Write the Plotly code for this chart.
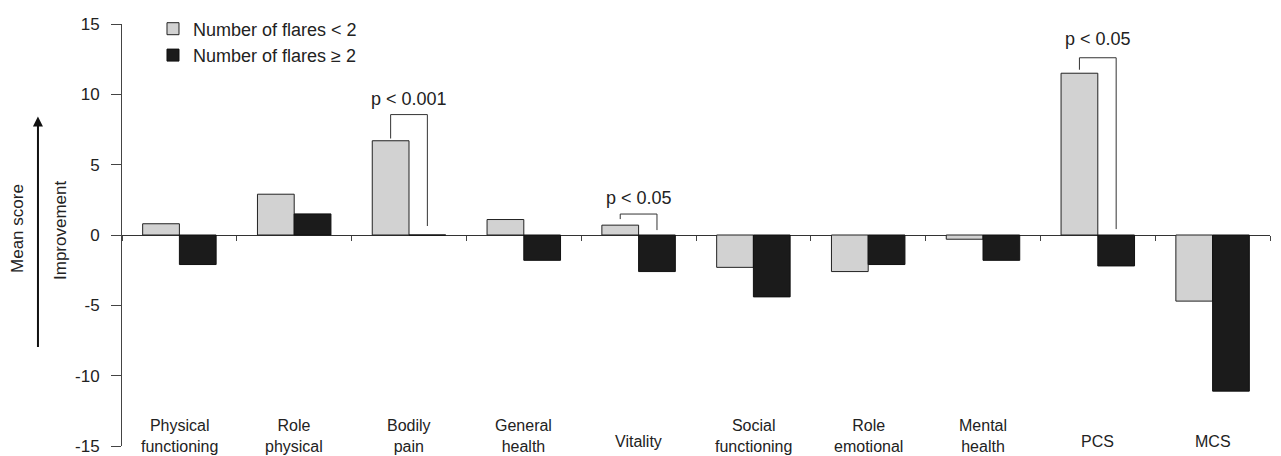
import plotly.graph_objects as go

categories = ["Physical<br>functioning", "Role<br>physical", "Bodily<br>pain", "General<br>health",
              "Vitality", "Social<br>functioning", "Role<br>emotional", "Mental<br>health", "PCS", "MCS"]
flares_lt2 = [0.8, 2.9, 6.7, 1.1, 0.7, -2.3, -2.6, -0.3, 11.5, -4.7]
flares_ge2 = [-2.1, 1.5, 0.0, -1.8, -2.6, -4.4, -2.1, -1.8, -2.2, -11.1]
series_names = ["Number of flares < 2", "Number of flares \u2265 2"]
y_ticks = [-15, -10, -5, 0, 5, 10, 15]
y_ticktext = ["-15", "-10", "-5", "0", "5", "10", "15"]
# significance brackets: category index, label, left leg bottom, top, right leg bottom, label y
sig_idx = [2, 4, 8]
sig_text = ["p < 0.001", "p < 0.05", "p < 0.05"]
sig_left = [6.86, 1.13, 11.75]
sig_top = [8.56, 1.49, 12.6]
sig_right = [0.64, 0.35, 0.42]
sig_label_y = [9.7, 2.6, 13.9]

FONT = "Liberation Sans, Arial, sans-serif"
TXT = "#222"

fig = go.Figure()
fig.add_trace(go.Bar(x=categories, y=flares_lt2, name=series_names[0],
                     marker=dict(color="#d2d2d2", line=dict(color="#222", width=1))))
fig.add_trace(go.Bar(x=categories, y=flares_ge2, name=series_names[1],
                     marker=dict(color="#1b1b1b", line=dict(color="#111", width=1))))

bargap = 0.36
half = (1 - bargap) / 4  # center offset of each bar in a group of two

shapes = []
annotations = []
for i, t, yl, yt, yr, ly in zip(sig_idx, sig_text, sig_left, sig_top, sig_right, sig_label_y):
    xl, xr = i - half, i + half
    for x0, y0, x1, y1 in [(xl, yl, xl, yt), (xl, yt, xr, yt), (xr, yt, xr, yr)]:
        shapes.append(dict(type="line", xref="x", yref="y", x0=x0, y0=y0, x1=x1, y1=y1,
                           line=dict(color="#333", width=1)))
    annotations.append(dict(x=i, y=ly, xref="x", yref="y", text=t, showarrow=False,
                            font=dict(size=18, color=TXT, family=FONT)))

for i, c in enumerate(categories):
    two = "<br>" in c
    annotations.append(dict(x=i, y=-14.3, xref="x", yref="y", text=c, showarrow=False,
                            yanchor="middle", yshift=0 if two else -5,
                            font=dict(size=16, color=TXT, family=FONT)))

annotations.append(dict(x=-0.054, y=0.5, xref="paper", yref="paper", text="Improvement",
                        textangle=-90, showarrow=False, yshift=4, xanchor="center",
                        yanchor="middle", font=dict(size=17, color=TXT, family=FONT)))
annotations.append(dict(x=-0.0915, y=0.5, xref="paper", yref="paper", text="Mean score",
                        textangle=-90, showarrow=False, yshift=7, xanchor="center",
                        yanchor="middle", font=dict(size=17, color=TXT, family=FONT)))
annotations.append(dict(x=-0.0732, y=0.7807, xref="paper", yref="paper", text="",
                        showarrow=True, ax=0, ay=232, arrowhead=2, arrowsize=1,
                        arrowwidth=2, arrowcolor="#111"))

fig.update_layout(
    width=1281, height=456,
    margin=dict(l=122, r=11, t=22, b=10),
    paper_bgcolor="white", plot_bgcolor="white",
    barmode="group", bargap=bargap, bargroupgap=0,
    font=dict(family=FONT, color=TXT, size=17),
    legend=dict(x=0.027, y=1.032, xanchor="left", yanchor="top",
                bgcolor="rgba(0,0,0,0)", font=dict(size=18, color=TXT, family=FONT)),
    shapes=shapes, annotations=annotations,
    xaxis=dict(type="category", anchor="free", position=0.5, showline=False,
               ticks="outside", tickson="boundaries", ticklen=5, tickcolor="#444",
               showticklabels=False, showgrid=False, zeroline=False,
               range=[-0.5, len(categories) - 0.5]),
    yaxis=dict(range=[-15, 15], tickvals=y_ticks, ticktext=y_ticktext,
               showline=True, linecolor="#444", linewidth=1, ticks="outside",
               ticklen=10, tickcolor="#444", showgrid=False, zeroline=True,
               zerolinecolor="#333", zerolinewidth=1, automargin=False,
               ticklabelstandoff=8,
               tickfont=dict(size=17, color=TXT, family=FONT)),
)

fig.write_html("out.html", config={"displayModeBar": False},
               post_script="document.body.style.margin='0px';document.body.style.overflow='hidden';")
